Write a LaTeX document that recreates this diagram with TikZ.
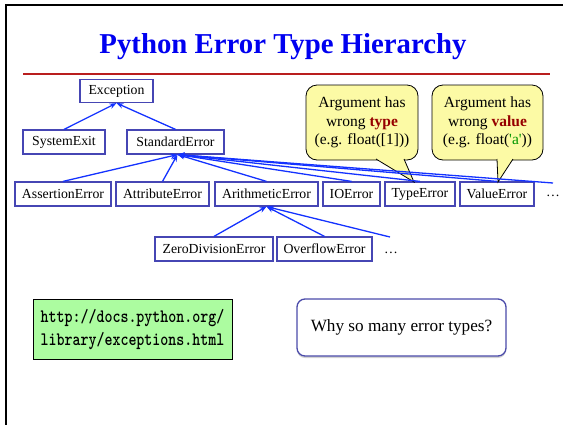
\documentclass[tikz,border=0pt]{standalone}
\usepackage{fontspec}
\setmainfont{Liberation Serif}
\newfontfamily\plainserif{Liberation Serif}
\usetikzlibrary{arrows.meta,shadows}
\definecolor{boxblue}{RGB}{70,70,180}
\definecolor{arrblue}{RGB}{20,50,255}
\definecolor{titleblue}{RGB}{0,0,240}
\definecolor{rulered}{RGB}{185,30,30}
\definecolor{callyellow}{RGB}{252,250,165}
\definecolor{darkred}{RGB}{150,0,0}
\definecolor{codegreen}{RGB}{0,150,0}
\definecolor{linkgreen}{RGB}{172,252,160}
\definecolor{whyblue}{RGB}{75,75,170}
\tikzset{
  errbox/.style={draw=boxblue, line width=1.2pt, fill=white, inner sep=0pt,
    minimum height=24pt, font=\fontsize{13.8}{16}\selectfont},
  arr/.style={draw=arrblue, line width=1.3pt, -{Stealth[length=7pt,width=5.5pt]}},
  callbox/.style={draw=black, line width=0.8pt, fill=callyellow, rounded corners=11pt,
    minimum width=112pt, minimum height=75pt, inner sep=0pt, align=center,
    font=\fontsize{15.5}{18.5}\selectfont},
  dots/.style={font=\fontsize{13.8}{16}\selectfont, inner sep=0pt}
}
\begin{document}
\begin{tikzpicture}[x=1pt,y=-1pt]
\useasboundingbox (0,0) rectangle (563,424);
% slide frame
\draw[line width=2pt] (6,440) -- (6,5) -- (580,5);
% title
\node[font=\bfseries\fontsize{28.8}{32}\selectfont, text=titleblue] (title) at (283,47) {Python Error Type Hierarchy};
\draw[rulered, line width=1.3pt] (23,74) -- (550,74);
% hierarchy
\node[errbox, minimum width=73pt, minimum height=23pt] (exc) at (116.5,91) {Exception};
\node[errbox, minimum width=82pt] (sysexit) at (64,142) {SystemExit};
\node[errbox, minimum width=97pt] (stderr) at (175.5,142) {StandardError};
\node[errbox, minimum width=96pt] (assert) at (63,194) {AssertionError};
\node[errbox, minimum width=93pt] (attr) at (162.5,194) {AttributeError};
\node[errbox, minimum width=103pt] (arith) at (266.5,194) {ArithmeticError};
\node[errbox, minimum width=57pt] (ioerr) at (351.5,194) {IOError};
\node[errbox, minimum width=70pt] (typeerr) at (420,194) {TypeError};
\node[errbox, minimum width=74pt] (valerr) at (497,194) {ValueError};
\node[dots] (dotsA) at (553,196) {…};
\node[errbox, minimum width=118pt] (zerodiv) at (214,249) {ZeroDivisionError};
\node[errbox, minimum width=95pt] (overflow) at (324.5,249) {OverflowError};
\node[dots] (dotsB) at (391,253) {…};
\coordinate (dotsAtop) at (553,183);
\coordinate (dotsBtop) at (390,237);
% callouts
\node[callbox] (ctype) at (362,122.5) {Argument has\\wrong \textbf{\textcolor{darkred}{type}}\\(e.g. float([1]))};
\node[callbox, minimum width=111pt] (cval) at (487.5,122.5) {Argument has\\wrong \textbf{\textcolor{darkred}{value}}\\(e.g. float(\textcolor{codegreen}{\plainserif 'a'}))};
\coordinate (tpl) at (376,159); \coordinate (tpr) at (404,159); \coordinate (ttip) at (414,182);
\coordinate (vpl) at (497,159); \coordinate (vpr) at (513,159); \coordinate (vtip) at (498,182);
\fill[callyellow] (tpl) -- (ttip) -- (tpr) -- cycle;
\draw[line width=0.8pt, line join=miter] (tpl) -- (ttip) -- (tpr);
\fill[callyellow] (vpl) -- (vtip) -- (vpr) -- cycle;
\draw[line width=0.8pt, line join=miter] (vpl) -- (vtip) -- (vpr);
% arrows
\draw[arr] (sysexit.north) -- (exc.south);
\draw[arr] (stderr.north) -- (exc.south);
\foreach \c in {assert,attr,arith,ioerr,typeerr,valerr,dotsAtop}
  \draw[arr] (\c.north) -- ([xshift=2pt]stderr.south);
\foreach \c in {zerodiv,overflow,dotsBtop}
  \draw[arr] (\c.north) -- (arith.south);
% bottom boxes
\node[draw=black, line width=1pt, fill=linkgreen, minimum width=199pt, minimum height=60pt, inner sep=0pt, align=left]
  (link) at (132.5,329) {\scalebox{0.8}[1]{\ttfamily\bfseries\fontsize{19}{23}\selectfont\begin{tabular}{@{}l@{}}http://docs.python.org/\\library/exceptions.html\end{tabular}}};
\node[draw=whyblue, line width=1.3pt, fill=white, rounded corners=8pt, minimum width=209pt, minimum height=57pt,
  drop shadow={opacity=0.35, shadow xshift=0pt, shadow yshift=-2pt}, font=\fontsize{17.2}{20}\selectfont]
  (why) at (401.5,327.5) {Why so many error types?};
\end{tikzpicture}
\end{document}
